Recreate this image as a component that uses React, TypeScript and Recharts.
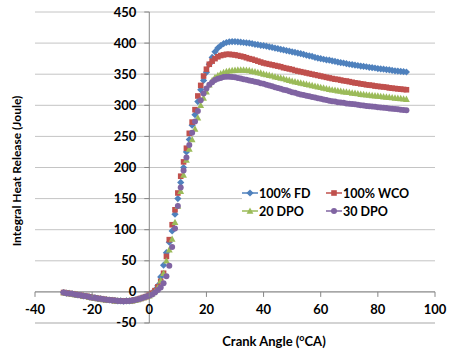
import React from "react";
import { LineChart, Line, XAxis, YAxis, CartesianGrid, ReferenceLine, Legend, Label } from "recharts";

const crankAngle = [
  -30, -29, -28, -27, -26, -25, -24, -23, -22, -21, -20, -19, -18, -17, -16, -15, -14, -13, -12, -11,
  -10, -9, -8, -7, -6, -5, -4, -3, -2, -1, 0, 1, 2, 3, 4, 5, 6, 7, 8, 9,
  10, 11, 12, 13, 14, 15, 16, 17, 18, 19, 20, 21, 22, 23, 24, 25, 26, 27, 28, 29,
  30, 31, 32, 33, 34, 35, 36, 37, 38, 39, 40, 41, 42, 43, 44, 45, 46, 47, 48, 49,
  50, 51, 52, 53, 54, 55, 56, 57, 58, 59, 60, 61, 62, 63, 64, 65, 66, 67, 68, 69,
  70, 71, 72, 73, 74, 75, 76, 77, 78, 79, 80, 81, 82, 83, 84, 85, 86, 87, 88, 89, 90,
];

const fd100 = [
  -1, -2, -2.5, -3, -4, -5, -5.5, -6.5, -7, -8, -9, -9.5, -10.5, -11, -12, -12.5, -13, -13.5, -14, -14.5,
  -14.5, -15, -14.5, -14.5, -14, -13, -12, -10.5, -9, -7.5, -5, -2, 3, 10, 24, 43, 63, 80, 98, 125,
  150, 176, 200, 225, 245, 268, 285, 306, 325, 340, 353, 366, 377, 386, 392, 396, 399, 401, 402, 402.5,
  402.5, 402, 401.5, 401, 400.5, 400, 399, 398, 397.5, 396.5, 396, 395, 394, 393, 392, 391, 390, 389, 388, 387,
  386, 385, 384, 383, 382, 380.5, 379.5, 378.5, 377, 376, 375, 374, 373, 372.5, 371.5, 370.5, 369.5, 368.5, 368, 367,
  366, 365.5, 364.5, 364, 363, 362.5, 362, 361, 360.5, 360, 359, 358.5, 358, 357.5, 357, 356, 355.5, 355, 354.5, 354, 353.5,
];

const wco100 = [
  -1, -2, -2.5, -3, -4, -5, -5.5, -6.5, -7, -8, -9, -9.5, -10.5, -11, -12, -12.5, -13, -13.5, -14, -14.5,
  -14.5, -15, -14.5, -14.5, -14, -13, -12, -10.5, -9, -7.5, -5, -2, 2, 8, 17, 30, 57, 84, 108, 132,
  159, 186, 209, 231, 255, 273, 293, 315, 332, 347, 358, 366, 371, 375, 378, 380, 381, 382, 382, 381.5,
  381, 380, 379, 378, 376.5, 375, 374, 372.5, 371, 369.5, 368, 367, 366, 365, 364, 363, 362, 360.5, 359.5, 358.5,
  357.5, 356, 355, 354, 353, 352, 351, 350, 349, 348, 347, 346, 345, 344, 343, 342, 341.5, 340.5, 339.5, 339,
  338, 337, 336, 335.5, 334.5, 334, 333, 332.5, 332, 331, 330.5, 330, 329.5, 329, 328, 327.5, 327, 326.5, 326, 325.5, 325,
];

const dpo20 = [
  -1, -2, -2.5, -3, -4, -5, -5.5, -6.5, -7, -8, -9, -9.5, -10.5, -11, -12, -12.5, -13, -13.5, -14, -14.5,
  -14.5, -15, -14.5, -14.5, -14, -13, -12, -10.5, -9, -7.5, -6, -3, 1, 7, 18, 30, 50, 68, 85, 112,
  138, 162, 188, 212, 230, 245, 262, 280, 300, 312, 322, 333, 340, 345, 348, 351, 353, 354.5, 355.5, 356,
  356.5, 357, 357, 357, 356.5, 356, 355, 354, 353, 352, 350.5, 349.5, 348.5, 347.5, 346, 345, 344, 343, 341.5, 340.5,
  339, 338, 337, 336, 335, 334, 333, 332, 331, 330, 329, 328, 327, 326, 325, 324.5, 323.5, 323, 322, 321.5,
  321, 320, 319.5, 319, 318, 317.5, 317, 316.5, 316, 315.5, 315, 314.5, 314, 313.5, 313, 312.5, 312, 311.5, 311, 310.5, 310,
];

const dpo30 = [
  -1, -2, -2.5, -3, -4, -5, -5.5, -6.5, -7, -8, -9, -9.5, -10.5, -11, -12, -12.5, -13, -13.5, -14, -14.5,
  -14.5, -15, -14.5, -14.5, -14, -13, -12, -10.5, -9, -7.5, -6, -4, -1, 3, 7, 14, 25, 42, 72, 102,
  138, 168, 195, 216, 236, 256, 274, 291, 308, 319, 327, 333, 337, 340.5, 342.5, 344, 345.5, 346, 346, 345.5,
  345, 344, 343, 342, 341, 340, 339, 338, 337, 335.5, 334.5, 333, 332, 330.5, 329, 328, 326.5, 325, 324, 322.5,
  321, 320, 318.5, 317.5, 316.5, 315.5, 314.5, 313.5, 312.5, 311.5, 310.5, 309.5, 308.5, 307.5, 306.5, 306, 305, 304.5, 304, 303,
  302.5, 302, 301.5, 301, 300, 299.5, 299, 298.5, 298, 297.5, 297, 296.5, 296, 295.5, 295, 294.5, 294, 293.5, 293, 292.5, 292,
];

const xTicks = [-40, -20, 0, 20, 40, 60, 80, 100];
const yTicks = [-50, 0, 50, 100, 150, 200, 250, 300, 350, 400, 450];

const series = [
  { key: "fd", name: "100% FD", color: "#4F81BD", shape: "diamond" },
  { key: "wco", name: "100% WCO", color: "#C0504D", shape: "square" },
  { key: "dpo20", name: "20 DPO", color: "#9BBB59", shape: "triangle" },
  { key: "dpo30", name: "30 DPO", color: "#8064A2", shape: "circle" },
];

const data = crankAngle.map((angle, i) => ({
  angle,
  fd: fd100[i],
  wco: wco100[i],
  dpo20: dpo20[i],
  dpo30: dpo30[i],
}));

const FONT = "Lato, 'Open Sans', sans-serif";
const W = 449;
const H = 356;
const MARGIN = { top: 12, right: 14, bottom: 0, left: 0 };
const Y_AXIS_W = 35;
const X_AXIS_H = 33;
const PLOT_W = W - MARGIN.right - Y_AXIS_W;
const PLOT_H = H - MARGIN.top - X_AXIS_H;
// axes cross at (0, 0), not at the plot edges
const ZERO_UP = (PLOT_H * 50) / 500;
const ZERO_RIGHT = (PLOT_W * 40) / 140;
const AXIS_GRAY = "#868686";

function Marker({ shape, color, cx, cy }: { shape: string; color: string; cx: number; cy: number }) {
  if (shape === "diamond") {
    return <polygon points={`${cx},${cy - 3.6} ${cx + 3.6},${cy} ${cx},${cy + 3.6} ${cx - 3.6},${cy}`} fill={color} />;
  }
  if (shape === "square") {
    return <rect x={cx - 2.8} y={cy - 2.8} width={5.6} height={5.6} fill={color} />;
  }
  if (shape === "triangle") {
    return <polygon points={`${cx},${cy - 3.6} ${cx + 3.4},${cy + 2.8} ${cx - 3.4},${cy + 2.8}`} fill={color} />;
  }
  return <circle cx={cx} cy={cy} r={3} fill={color} />;
}

const makeDot = (shape: string, color: string) => (props: any) => {
  const { cx, cy, index } = props;
  if (cx == null || cy == null) return <g key={index} />;
  return <Marker key={index} shape={shape} color={color} cx={cx} cy={cy} />;
};

const XTick = ({ x, y, payload }: any) => {
  const y0 = y - ZERO_UP;
  return (
    <g>
      <line x1={x} x2={x} y1={y0} y2={y0 + 5} stroke={AXIS_GRAY} />
      <text x={x} y={y0 + 22} textAnchor="middle" fontFamily={FONT} fontWeight={700} fontSize={13} fill="#000">
        {payload.value}
      </text>
    </g>
  );
};

const YTick = ({ x, y, payload }: any) => {
  const x0 = x + ZERO_RIGHT;
  return (
    <g>
      <line x1={x0 - 5} x2={x0} y1={y} y2={y} stroke={AXIS_GRAY} />
      <text x={x0 - 13} y={y + 4.5} textAnchor="end" fontFamily={FONT} fontWeight={700} fontSize={13} fill="#000">
        {payload.value}
      </text>
    </g>
  );
};

const LegendBox = () => (
  <div style={{ position: "relative", width: 193, height: 36, background: "#fff", fontFamily: FONT }}>
    {series.map((s, i) => (
      <div
        key={s.key}
        style={{
          position: "absolute",
          left: (i % 2) * 84,
          top: Math.floor(i / 2) * 18,
          height: 18,
          display: "flex",
          alignItems: "center",
          fontWeight: 700,
          fontSize: 12.5,
          color: "#000",
          whiteSpace: "nowrap",
        }}
      >
        <svg width={16} height={10} style={{ marginRight: 1 }}>
          <line x1={0} x2={16} y1={5} y2={5} stroke={s.color} strokeWidth={1.5} />
          <Marker shape={s.shape} color={s.color} cx={8} cy={5} />
        </svg>
        {s.name}
      </div>
    ))}
  </div>
);

export default function App() {
  return (
    <div style={{ position: "absolute", left: 0, top: 0, width: W, height: H, background: "#fff" }}>
      <LineChart width={W} height={H} data={data} margin={MARGIN}>
        <CartesianGrid horizontal vertical={false} stroke="#c4c4c4" />
        <XAxis
          type="number"
          dataKey="angle"
          domain={[-40, 100]}
          ticks={xTicks}
          interval={0}
          height={X_AXIS_H}
          axisLine={false}
          tickLine={false}
          tickSize={0}
          tickMargin={0}
          tick={<XTick />}
        >
          <Label
            content={() => (
              <text x={274} y={346} textAnchor="middle" fontFamily={FONT} fontWeight={700} fontSize={13} fill="#000">
                Crank Angle (<tspan dy={-5} fontSize={9}>o</tspan>
                <tspan dy={5}>CA)</tspan>
              </text>
            )}
          />
        </XAxis>
        <YAxis
          type="number"
          domain={[-50.001, 450]}
          ticks={yTicks}
          interval={0}
          width={Y_AXIS_W}
          axisLine={false}
          tickLine={false}
          tickSize={0}
          tickMargin={0}
          tick={<YTick />}
        >
          <Label
            content={() => (
              <text
                x={0}
                y={0}
                transform="translate(21, 171) rotate(-90)"
                textAnchor="middle"
                fontFamily={FONT}
                fontWeight={700}
                fontSize={12}
                fill="#000"
              >
                Integral Heat Release (Joule)
              </text>
            )}
          />
        </YAxis>
        <ReferenceLine x={0} stroke={AXIS_GRAY} />
        <ReferenceLine y={0} stroke={AXIS_GRAY} />
        <Legend
          layout="horizontal"
          verticalAlign="middle"
          align="center"
          content={<LegendBox />}
          wrapperStyle={{ left: 242, top: 184, width: 193, height: 36 }}
        />
        {series.map((s) => (
          <Line
            key={s.key}
            dataKey={s.key}
            name={s.name}
            stroke="none"
            dot={makeDot(s.shape, s.color)}
            activeDot={false}
            isAnimationActive={false}
          />
        ))}
      </LineChart>
    </div>
  );
}
